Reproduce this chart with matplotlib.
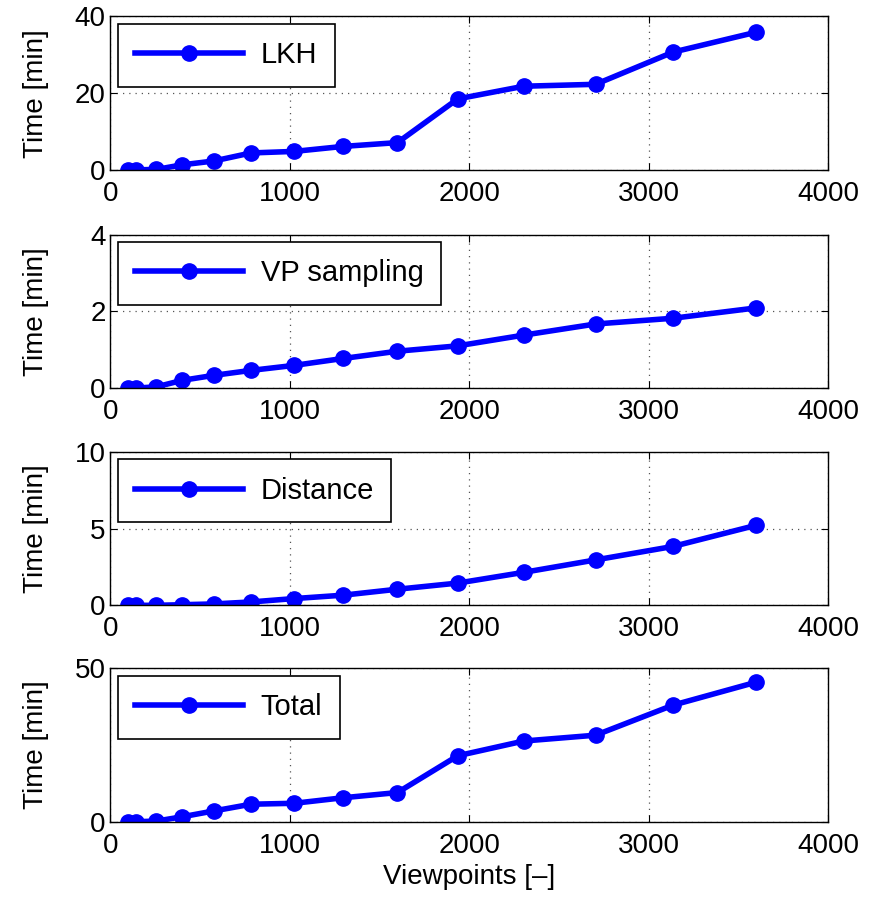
import matplotlib.pyplot as plt

plt.rcParams['font.family'] = ['Liberation Sans', 'DejaVu Sans']

# viewpoint counts
viewpoints = [100, 144, 256, 400, 576, 784, 1024, 1296, 1600, 1936, 2304, 2704, 3136, 3600]

# times [min]
lkh = [0.0, 0.0, 0.1, 1.3, 2.3, 4.4, 4.8, 6.1, 7.1, 18.5, 21.8, 22.3, 30.7, 35.9]
vp_sampling = [0.0, 0.0, 0.03, 0.2, 0.33, 0.46, 0.59, 0.77, 0.96, 1.10, 1.38, 1.67, 1.82, 2.09]
distance = [0.0, 0.0, 0.0, 0.04, 0.09, 0.22, 0.44, 0.66, 1.05, 1.45, 2.15, 2.96, 3.84, 5.22]
total = [0.0, 0.0, 0.2, 1.6, 3.5, 5.7, 6.0, 7.8, 9.5, 21.5, 26.3, 28.2, 38.0, 45.5]

series = [
    ('LKH', lkh, [0, 20, 40]),
    ('VP sampling', vp_sampling, [0, 2, 4]),
    ('Distance', distance, [0, 5, 10]),
    ('Total', total, [0, 50]),
]

fig = plt.figure(figsize=(8.69, 9.13), dpi=100)
left, width = 0.127, 0.826
bottoms = [0.814, 0.575, 0.337, 0.100]
height = 0.168

for (name, vals, yt), b in zip(series, bottoms):
    ax = fig.add_axes([left, b, width, height])
    ax.plot(viewpoints, vals, '-o', color='#0000ff', lw=4, ms=11, label=name)
    ax.set_xlim(0, 4000)
    ax.set_ylim(yt[0], yt[-1])
    ax.set_xticks([0, 1000, 2000, 3000, 4000])
    ax.set_yticks(yt)
    ax.grid(True, linestyle=(0, (1, 4)), color='#555555', linewidth=0.9)
    ax.tick_params(direction='in', top=True, right=True, labelsize=20, length=5)
    ax.tick_params(axis='x', pad=8)
    ax.set_ylabel('Time [min]', fontsize=20)
    ax.yaxis.set_label_coords(-0.085, 0.5)
    for sp in ax.spines.values():
        sp.set_linewidth(1.0)
    leg = ax.legend(loc='upper left', fontsize=21, handlelength=3.7, fancybox=False,
                    framealpha=1, edgecolor='black', borderaxespad=0.25,
                    borderpad=0.6, handletextpad=0.6)
    leg.get_frame().set_linewidth(1.2)

ax.set_xlabel('Viewpoints [\u2013]', fontsize=20)

fig.savefig('out.png', dpi=100)
